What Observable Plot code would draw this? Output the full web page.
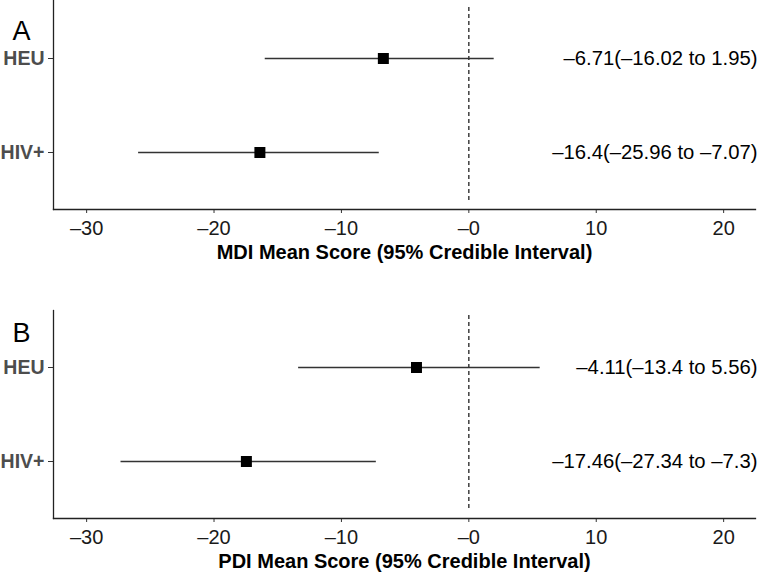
<!DOCTYPE html>
<html>
<head>
<meta charset="utf-8">
<script src="https://cdn.jsdelivr.net/npm/d3@7"></script>
<script src="https://cdn.jsdelivr.net/npm/@observablehq/plot@0.6"></script>
<style>
  body { margin: 0; background: #fff; }
  #chart { width: 762px; }
  #chart svg { display: block; font-family: "Liberation Sans", Arial, sans-serif; }
</style>
</head>
<body>
<div id="chart"></div>
<script>
const groups = ["HEU", "HIV+"];
const mdiMean = [-6.71, -16.4];
const mdiLow = [-16.02, -25.96];
const mdiHigh = [1.95, -7.07];
const pdiMean = [-4.11, -17.46];
const pdiLow = [-13.4, -27.34];
const pdiHigh = [5.56, -7.3];
const panelLabels = ["A", "B"];
const axisTitles = ["MDI Mean Score (95% Credible Interval)", "PDI Mean Score (95% Credible Interval)"];
const xTicks = [-30, -20, -10, 0, 10, 20];
const xDomain = [-32.6, 22.5];

const dash = "\u2013";
const fmtNum = v => (v < 0 ? dash : "") + String(Math.abs(v));
const tickFmt = d => d === 0 ? dash + "0" : (d < 0 ? dash : "") + Math.abs(d);

function rows(means, lows, highs) {
  return groups.map((g, i) => ({
    group: g, mean: means[i], low: lows[i], high: highs[i],
    label: `${fmtNum(means[i])}(${fmtNum(lows[i])} to ${fmtNum(highs[i])})`
  }));
}

function panel(data, letter, title, opts) {
  return Plot.plot({
    width: 762,
    height: opts.height,
    marginTop: opts.marginTop,
    marginBottom: opts.marginBottom,
    marginLeft: 53,
    marginRight: 7,
    style: { fontFamily: '"Liberation Sans", Arial, sans-serif', background: "white" },
    x: { domain: xDomain, ticks: xTicks, tickFormat: tickFmt, label: null },
    y: { type: "point", domain: groups, padding: 0.6, label: null },
    marks: [
      Plot.axisX({ ticks: xTicks, tickFormat: tickFmt, tickSize: 4, tickPadding: 7, fontSize: 20, fill: "#1a1a1a", stroke: "#333", label: null }),
      Plot.axisY({ tickSize: 5, tickPadding: 4, fontSize: 19.5, fontWeight: "bold", fill: "#4d4d4d", stroke: "#333", label: null }),
      Plot.frame({ anchor: "left", stroke: "#222", strokeWidth: 1.3 }),
      Plot.frame({ anchor: "bottom", stroke: "#222", strokeWidth: 1.3 }),
      Plot.ruleX([0], { stroke: "#222", strokeWidth: 1.3, strokeDasharray: "4,3", insetTop: opts.dashTop, insetBottom: 8 }),
      Plot.link(data, { x1: "low", x2: "high", y1: "group", y2: "group", stroke: "#333", strokeWidth: 1.5 }),
      Plot.dot(data, { x: "mean", y: "group", symbol: "square", r: 6.2, fill: "black", stroke: "none" }),
      Plot.text(data, { y: "group", text: "label", frameAnchor: "right", textAnchor: "end", dx: 2, fontSize: 20.3, fill: "black" }),
      Plot.text([letter], { text: d => d, frameAnchor: "top-left", textAnchor: "start", dx: -41, dy: opts.letterDy, fontSize: 27, fill: "black" }),
      Plot.text([title], { text: d => d, frameAnchor: "bottom", dy: 49, fontSize: 20, fontWeight: "bold", fill: "black" })
    ]
  });
}

const chart = document.getElementById("chart");
chart.append(panel(rows(mdiMean, mdiLow, mdiHigh), panelLabels[0], axisTitles[0],
  { height: 280, marginTop: 0, marginBottom: 71, letterDy: 20, dashTop: 7 }));
chart.append(panel(rows(pdiMean, pdiLow, pdiHigh), panelLabels[1], axisTitles[1],
  { height: 295, marginTop: 30, marginBottom: 57, letterDy: 12, dashTop: 5 }));
</script>
</body>
</html>
